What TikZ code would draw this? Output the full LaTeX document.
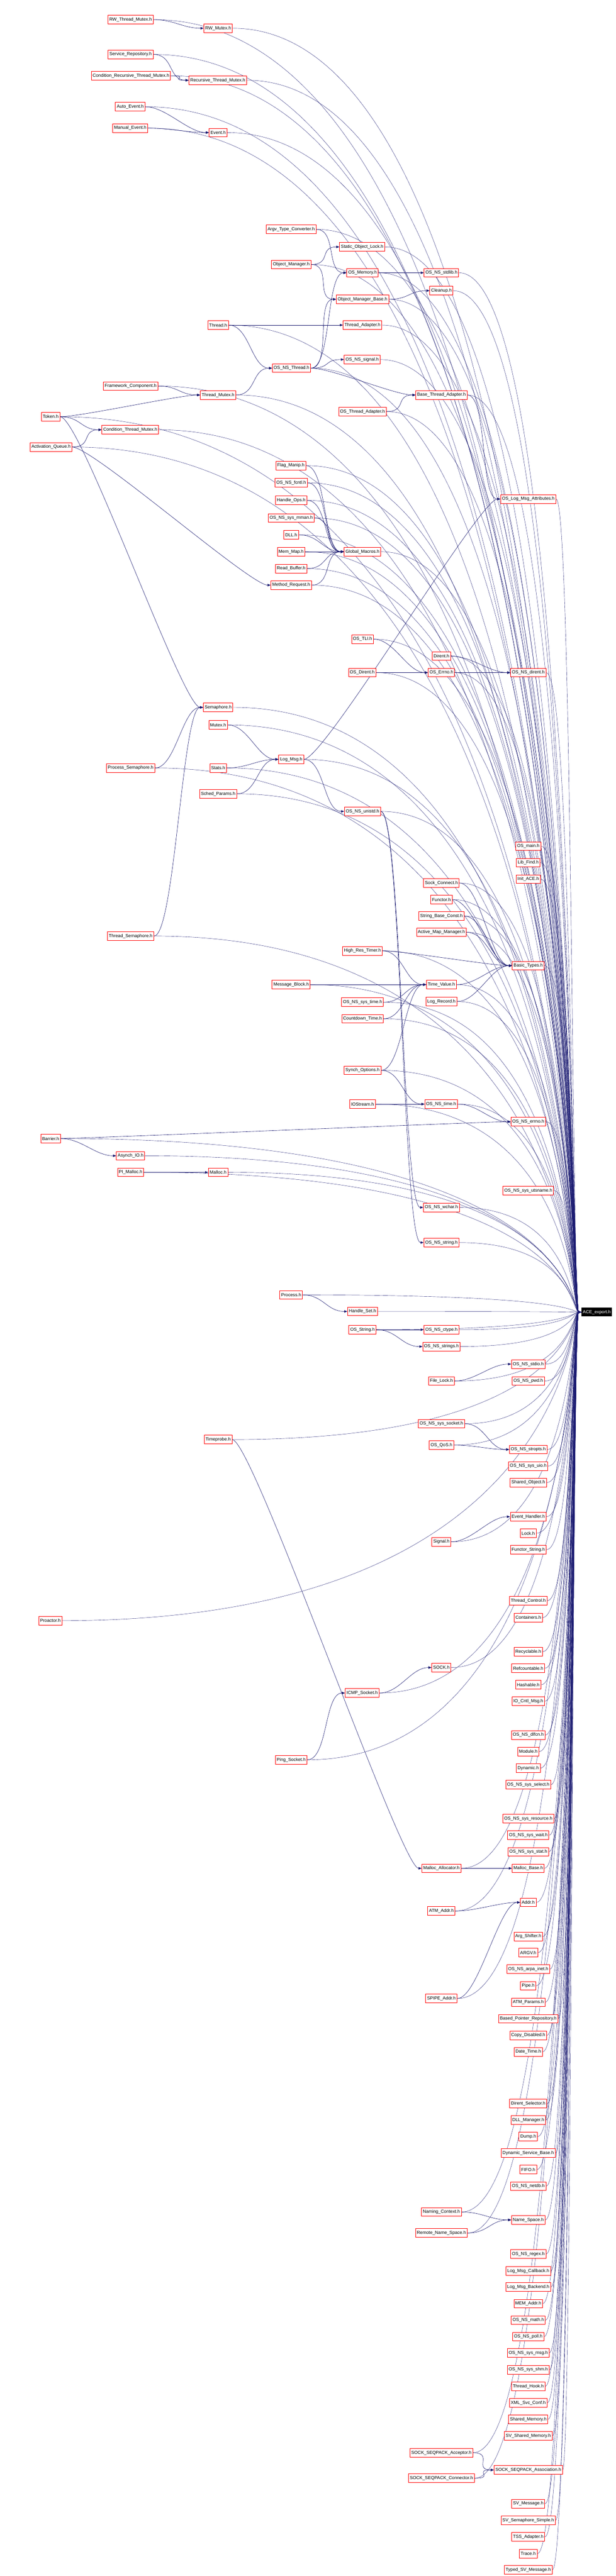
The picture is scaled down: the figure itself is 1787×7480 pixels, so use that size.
\documentclass[tikz,border=0pt]{standalone}
\usepackage{fontspec}
\setmainfont{Liberation Sans}
\usetikzlibrary{arrows.meta,backgrounds}
\definecolor{edgeblue}{RGB}{25,25,112}
\begin{document}
\begin{tikzpicture}[x=1pt,y=-1pt,
  nb/.style={draw=red,line width=1.3pt,fill=white,font=\fontsize{13}{15}\selectfont,inner xsep=4pt,inner ysep=0pt,minimum height=25pt},
  root/.style={fill=black,text=white,font=\fontsize{13}{15}\selectfont,inner xsep=4pt,inner ysep=0pt,minimum height=25pt},
  ie/.style={draw=edgeblue,line width=0.9pt,-{Triangle[length=9pt,width=7pt]}},
  ae/.style={draw=edgeblue,line width=0.6pt,-{Triangle[length=8pt,width=6pt]}}]
\useasboundingbox (0,0) rectangle (1787,7480);
\coordinate (cc) at (1660,0);
\node[root] (ace) at (1732,3810) {ACE\_export.h};
\node[nb] (rwtm) at (379,57) {RW\_Thread\_Mutex.h};
\node[nb] (rwm) at (633,82) {RW\_Mutex.h};
\node[nb] (srep) at (379,158) {Service\_Repository.h};
\node[nb] (crtm) at (380,220) {Condition\_Recursive\_Thread\_Mutex.h};
\node[nb] (rtm) at (632,233) {Recursive\_Thread\_Mutex.h};
\node[nb] (aev) at (378,310) {Auto\_Event.h};
\node[nb] (mev) at (378,372) {Manual\_Event.h};
\node[nb] (ev) at (633,385) {Event.h};
\node[nb] (atc) at (845,666) {Argv\_Type\_Converter.h};
\node[nb] (sol) at (1051,717) {Static\_Object\_Lock.h};
\node[nb] (om) at (845,768) {Object\_Manager.h};
\node[nb] (osmem) at (1052,792) {OS\_Memory.h};
\node[nb] (stdlib) at (1281,792) {OS\_NS\_stdlib.h};
\node[nb] (cln) at (1281,844) {Cleanup.h};
\node[nb] (omb) at (1052,869) {Object\_Manager\_Base.h};
\node[nb] (thr) at (633,944) {Thread.h};
\node[nb] (tad) at (1052,944) {Thread\_Adapter.h};
\node[nb] (sig) at (1051,1044) {OS\_NS\_signal.h};
\node[nb] (nsthr) at (846,1069) {OS\_NS\_Thread.h};
\node[nb] (fwc) at (379,1121) {Framework\_Component.h};
\node[nb] (tm) at (633,1147) {Thread\_Mutex.h};
\node[nb] (bta) at (1281,1147) {Base\_Thread\_Adapter.h};
\node[nb] (ota) at (1052,1195) {OS\_Thread\_Adapter.h};
\node[nb] (tok) at (147,1210) {Token.h};
\node[nb] (ctm) at (378,1248) {Condition\_Thread\_Mutex.h};
\node[nb] (aq) at (148,1298) {Activation\_Queue.h};
\node[nb] (fm) at (844,1352) {Flag\_Manip.h};
\node[nb] (fcntl) at (845,1402) {OS\_NS\_fcntl.h};
\node[nb] (hops) at (845,1453) {Handle\_Ops.h};
\node[nb] (mman) at (845,1504) {OS\_NS\_sys\_mman.h};
\node[nb] (olma) at (1533,1449) {OS\_Log\_Msg\_Attributes.h};
\node[nb] (dll) at (845,1553) {DLL.h};
\node[nb] (mmap) at (845,1602) {Mem\_Map.h};
\node[nb] (gm) at (1052,1602) {Global\_Macros.h};
\node[nb] (rbuf) at (845,1651) {Read\_Buffer.h};
\node[nb] (mreq) at (845,1699) {Method\_Request.h};
\node[nb] (tli) at (1052,1856) {OS\_TLI.h};
\node[nb] (dir) at (1281,1905) {Dirent.h};
\node[nb] (osdir) at (1051,1953) {OS\_Dirent.h};
\node[nb] (errno) at (1281,1953) {OS\_Errno.h};
\node[nb] (nsdir) at (1533,1953) {OS\_NS\_dirent.h};
\node[nb] (sem) at (633,2054) {Semaphore.h};
\node[nb] (mtx) at (633,2105) {Mutex.h};
\node[nb] (lmsg) at (845,2205) {Log\_Msg.h};
\node[nb] (psem) at (379,2230) {Process\_Semaphore.h};
\node[nb] (stats) at (633,2230) {Stats.h};
\node[nb] (sched) at (633,2305) {Sched\_Params.h};
\node[nb] (unistd) at (1052,2356) {OS\_NS\_unistd.h};
\node[nb] (main) at (1533,2457) {OS\_main.h};
\node[nb] (lfind) at (1533,2505) {Lib\_Find.h};
\node[nb] (iace) at (1533,2553) {Init\_ACE.h};
\node[nb] (sconn) at (1281,2564) {Sock\_Connect.h};
\node[nb] (fctr) at (1281,2612) {Functor.h};
\node[nb] (sbc) at (1281,2660) {String\_Base\_Const.h};
\node[nb] (amm) at (1281,2707) {Active\_Map\_Manager.h};
\node[nb] (tsem) at (379,2718) {Thread\_Semaphore.h};
\node[nb] (hrt) at (1052,2761) {High\_Res\_Timer.h};
\node[nb] (bt) at (1533,2804) {Basic\_Types.h};
\node[nb] (mb) at (845,2859) {Message\_Block.h};
\node[nb] (tv) at (1281,2859) {Time\_Value.h};
\node[nb] (systime) at (1052,2910) {OS\_NS\_sys\_time.h};
\node[nb] (lrec) at (1281,2908) {Log\_Record.h};
\node[nb] (cdt) at (1052,2958) {Countdown\_Time.h};
\node[nb] (so) at (1052,3108) {Synch\_Options.h};
\node[nb] (ios) at (1052,3206) {IOStream.h};
\node[nb] (nstime) at (1280,3206) {OS\_NS\_time.h};
\node[nb] (nserrno) at (1533,3257) {OS\_NS\_errno.h};
\node[nb] (bar) at (147,3306) {Barrier.h};
\node[nb] (aio) at (379,3356) {Asynch\_IO.h};
\node[nb] (pim) at (379,3404) {PI\_Malloc.h};
\node[nb] (mal) at (633,3404) {Malloc.h};
\node[nb] (uts) at (1533,3457) {OS\_NS\_sys\_utsname.h};
\node[nb] (wchar) at (1281,3506) {OS\_NS\_wchar.h};
\node[nb] (nsstr) at (1281,3608) {OS\_NS\_string.h};
\node[nb] (proc) at (845,3760) {Process.h};
\node[nb] (hset) at (1052,3808) {Handle\_Set.h};
\node[nb] (ostr) at (1052,3861) {OS\_String.h};
\node[nb] (ctype) at (1281,3861) {OS\_NS\_ctype.h};
\node[nb] (strs) at (1281,3910) {OS\_NS\_strings.h};
\node[nb] (stdio) at (1533,3961) {OS\_NS\_stdio.h};
\node[nb] (flock) at (1281,4010) {File\_Lock.h};
\node[nb] (pwd) at (1533,4010) {OS\_NS\_pwd.h};
\node[nb] (sock) at (1281,4134) {OS\_NS\_sys\_socket.h};
\node[nb] (tp) at (633,4180) {Timeprobe.h};
\node[nb] (qos) at (1281,4196) {OS\_QoS.h};
\node[nb] (stropts) at (1533,4209) {OS\_NS\_stropts.h};
\node[nb] (uio) at (1533,4257) {OS\_NS\_sys\_uio.h};
\node[nb] (sho) at (1533,4305) {Shared\_Object.h};
\node[nb] (eh) at (1533,4404) {Event\_Handler.h};
\node[nb] (lock) at (1533,4452) {Lock.h};
\node[nb] (sgnl) at (1281,4477) {Signal.h};
\node[nb] (fstr) at (1533,4500) {Functor\_String.h};
\node[nb] (tctl) at (1533,4648) {Thread\_Control.h};
\node[nb] (cont) at (1533,4697) {Containers.h};
\node[nb] (pro) at (146,4706) {Proactor.h};
\node[nb] (recy) at (1533,4796) {Recyclable.h};
\node[nb] (SOCK) at (1281,4842) {SOCK.h};
\node[nb] (refc) at (1533,4844) {Refcountable.h};
\node[nb] (hash) at (1533,4892) {Hashable.h};
\node[nb] (icmp) at (1051,4916) {ICMP\_Socket.h};
\node[nb] (ioc) at (1533,4940) {IO\_Cntl\_Msg.h};
\node[nb] (dlfcn) at (1533,5038) {OS\_NS\_dlfcn.h};
\node[nb] (mod) at (1533,5086) {Module.h};
\node[nb] (ping) at (845,5110) {Ping\_Socket.h};
\node[nb] (dyn) at (1533,5134) {Dynamic.h};
\node[nb] (sel) at (1533,5182) {OS\_NS\_sys\_select.h};
\node[nb] (res) at (1533,5281) {OS\_NS\_sys\_resource.h};
\node[nb] (wait) at (1533,5329) {OS\_NS\_sys\_wait.h};
\node[nb] (stat) at (1533,5377) {OS\_NS\_sys\_stat.h};
\node[nb] (malloc) at (1281,5425) {Malloc\_Allocator.h};
\node[nb] (mbase) at (1533,5425) {Malloc\_Base.h};
\node[nb] (addr) at (1533,5524) {Addr.h};
\node[nb] (atma) at (1281,5549) {ATM\_Addr.h};
\node[nb] (args) at (1533,5623) {Arg\_Shifter.h};
\node[nb] (argv) at (1533,5670) {ARGV.h};
\node[nb] (inet) at (1533,5718) {OS\_NS\_arpa\_inet.h};
\node[nb] (pipe) at (1533,5766) {Pipe.h};
\node[nb] (spipe) at (1281,5803) {SPIPE\_Addr.h};
\node[nb] (atmp) at (1533,5814) {ATM\_Params.h};
\node[nb] (bpr) at (1533,5862) {Based\_Pointer\_Repository.h};
\node[nb] (cdis) at (1533,5910) {Copy\_Disabled.h};
\node[nb] (dt) at (1533,5958) {Date\_Time.h};
\node[nb] (dsel) at (1533,6108) {Dirent\_Selector.h};
\node[nb] (dllm) at (1533,6156) {DLL\_Manager.h};
\node[nb] (dump) at (1533,6204) {Dump.h};
\node[nb] (dsb) at (1533,6252) {Dynamic\_Service\_Base.h};
\node[nb] (fifo) at (1533,6300) {FIFO.h};
\node[nb] (netdb) at (1533,6348) {OS\_NS\_netdb.h};
\node[nb] (nctx) at (1281,6423) {Naming\_Context.h};
\node[nb] (nsp) at (1533,6446) {Name\_Space.h};
\node[nb] (rns) at (1281,6484) {Remote\_Name\_Space.h};
\node[nb] (regex) at (1533,6545) {OS\_NS\_regex.h};
\node[nb] (lmc) at (1533,6594) {Log\_Msg\_Callback.h};
\node[nb] (lmb) at (1533,6641) {Log\_Msg\_Backend.h};
\node[nb] (mema) at (1533,6689) {MEM\_Addr.h};
\node[nb] (math) at (1533,6737) {OS\_NS\_math.h};
\node[nb] (poll) at (1533,6785) {OS\_NS\_poll.h};
\node[nb] (msg) at (1533,6832) {OS\_NS\_sys\_msg.h};
\node[nb] (shm) at (1533,6881) {OS\_NS\_sys\_shm.h};
\node[nb] (thook) at (1533,6929) {Thread\_Hook.h};
\node[nb] (xml) at (1533,6977) {XML\_Svc\_Conf.h};
\node[nb] (shmem) at (1533,7025) {Shared\_Memory.h};
\node[nb] (svsm) at (1533,7073) {SV\_Shared\_Memory.h};
\node[nb] (sacc) at (1281,7122) {SOCK\_SEQPACK\_Acceptor.h};
\node[nb] (sass) at (1533,7172) {SOCK\_SEQPACK\_Association.h};
\node[nb] (scon) at (1281,7196) {SOCK\_SEQPACK\_Connector.h};
\node[nb] (svm) at (1533,7270) {SV\_Message.h};
\node[nb] (svss) at (1533,7318) {SV\_Semaphore\_Simple.h};
\node[nb] (tssa) at (1533,7366) {TSS\_Adapter.h};
\node[nb] (trace) at (1533,7415) {Trace.h};
\node[nb] (tsvm) at (1533,7462) {Typed\_SV\_Message.h};
\begin{pgfonlayer}{background}
\foreach \n in {rwtm,rwm,srep,crtm,rtm,aev,mev,ev,atc,sol,om,osmem,stdlib,cln,omb,thr,tad,sig,nsthr,fwc,tm,bta,ota,tok,ctm,aq,fm,fcntl,hops,mman,olma,dll,mmap,gm,rbuf,mreq,tli,dir,osdir,errno,nsdir,sem,mtx,lmsg,psem,stats,sched,unistd,main,lfind,iace,sconn,fctr,sbc,amm,tsem,hrt,bt,mb,tv,systime,lrec,cdt,so,ios,nstime,nserrno,bar,aio,pim,mal,uts,wchar,nsstr,proc,hset,ostr,ctype,strs,stdio,flock,pwd,sock,tp,qos,stropts,uio,sho,eh,lock,sgnl,fstr,tctl,cont,pro,recy,SOCK,refc,hash,icmp,ioc,dlfcn,mod,ping,dyn,sel,res,wait,stat,malloc,mbase,addr,atma,args,argv,inet,pipe,spipe,atmp,bpr,cdis,dt,dsel,dllm,dump,dsb,fifo,netdb,nctx,nsp,rns,regex,lmc,lmb,mema,math,poll,msg,shm,thook,xml,shmem,svsm,sacc,sass,scon,svm,svss,tssa,trace,tsvm}
  \draw[ae] (\n.east) .. controls (cc |- \n.east) and (cc |- ace.west) .. (ace.west);
\foreach \a/\b in {rwtm/rwm,srep/rtm,crtm/rtm,aev/ev,mev/ev,om/sol,om/omb,atc/osmem,osmem/stdlib,omb/cln,thr/tad,thr/nsthr,nsthr/sig,nsthr/bta,nsthr/omb,nsthr/osmem,ota/bta,fwc/tm,tok/tm,tok/ctm,tm/nsthr,aq/ctm,aq/mreq,fm/gm,fcntl/gm,hops/gm,mman/gm,dll/gm,mmap/gm,rbuf/gm,mreq/gm,bta/olma,lmsg/olma,dir/nsdir,osdir/errno,osdir/nsdir,tli/errno,psem/sem,tsem/sem,tok/sem,stats/lmsg,sched/lmsg,mtx/lmsg,lmsg/unistd,hrt/bt,hrt/tv,mb/tv,systime/tv,cdt/tv,so/tv,tv/bt,lrec/bt,sconn/bt,fctr/bt,sbc/bt,amm/bt,so/nstime,ios/nstime,nstime/nserrno,bar/nserrno,bar/aio,pim/mal,unistd/wchar,unistd/nsstr,proc/hset,ostr/ctype,ostr/strs,flock/stdio,sock/stropts,qos/stropts,sgnl/eh,icmp/SOCK,ping/icmp,tp/malloc,malloc/mbase,atma/addr,spipe/addr,nctx/nsp,rns/nsp,sacc/sass,scon/sass}
  \draw[ie] (\a.east) .. controls +(60,0) and +(-60,0) .. (\b.west);
\end{pgfonlayer}
\end{tikzpicture}
\end{document}
